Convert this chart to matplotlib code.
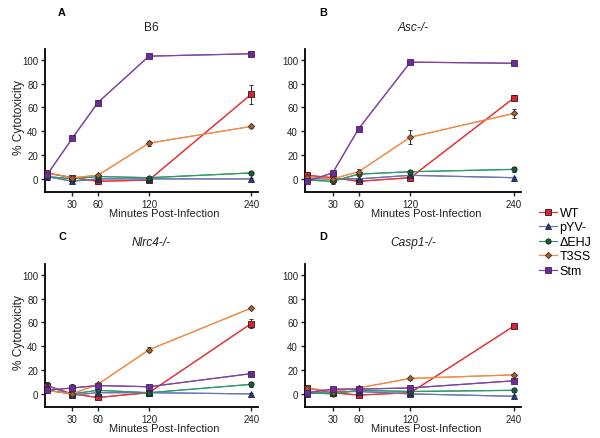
import matplotlib
matplotlib.use("Agg")
import matplotlib.pyplot as plt

plt.rcParams["font.family"] = ["Liberation Sans", "DejaVu Sans"]

# time points (minutes post-infection)
minutes = [0, 30, 60, 120, 240]
strains = ["WT", "pYV-", "\u0394EHJ", "T3SS", "Stm"]
panels = ["A", "B", "C", "D"]
titles = ["B6", "Asc-/-", "Nlrc4-/-", "Casp1-/-"]
title_italic = [False, True, True, True]

# % cytotoxicity, one list per strain per panel
b6 = {
    "WT": [5, 1, -2, -1, 71],
    "pYV-": [2, -2, 0, 0, 0],
    "\u0394EHJ": [2, 0, 2, 1, 5],
    "T3SS": [5, 1, 3, 30, 44],
    "Stm": [3, 34, 64, 103, 105],
}
asc = {
    "WT": [3, 1, -2, 1, 68],
    "pYV-": [0, 0, 0, 3, 1],
    "\u0394EHJ": [-1, -2, 4, 6, 8],
    "T3SS": [2, 0, 6, 35, 55],
    "Stm": [-2, 5, 42, 98, 97],
}
nlrc4 = {
    "WT": [7, 0, -3, 1, 59],
    "pYV-": [7, -1, 1, 1, 0],
    "\u0394EHJ": [3, 0, 3, 1, 8],
    "T3SS": [3, 0, 8, 37, 72],
    "Stm": [3, 5, 7, 6, 17],
}
casp1 = {
    "WT": [5, 1, -1, 1, 57],
    "pYV-": [0, 2, 2, 0, -2],
    "\u0394EHJ": [1, 0, 3, 2, 3],
    "T3SS": [5, 2, 5, 13, 16],
    "Stm": [1, 4, 4, 5, 11],
}
# standard error bars
b6_err = {
    "WT": [2, 1, 1, 1, 8],
    "pYV-": [1, 1, 1, 1, 1],
    "\u0394EHJ": [1, 1, 1, 1, 1],
    "T3SS": [1, 1, 1, 2, 1],
    "Stm": [1, 1, 2, 1, 1],
}
asc_err = {
    "WT": [1, 1, 1, 1, 2],
    "pYV-": [1, 1, 1, 1, 1],
    "\u0394EHJ": [1, 2, 1, 1, 2],
    "T3SS": [1, 1, 2, 6, 4],
    "Stm": [1, 2, 1, 1, 1],
}
nlrc4_err = {
    "WT": [3, 1, 1, 1, 4],
    "pYV-": [3, 1, 1, 1, 1],
    "\u0394EHJ": [1, 1, 1, 1, 2],
    "T3SS": [1, 1, 1, 2, 1],
    "Stm": [1, 3, 2, 1, 1],
}
casp1_err = {
    "WT": [1, 1, 1, 1, 1],
    "pYV-": [1, 1, 1, 1, 1],
    "\u0394EHJ": [1, 1, 1, 1, 1],
    "T3SS": [1, 1, 1, 1, 1],
    "Stm": [1, 1, 1, 1, 2],
}
all_data = [b6, asc, nlrc4, casp1]
all_err = [b6_err, asc_err, nlrc4_err, casp1_err]

line_colors = {"WT": "#e8323a", "pYV-": "#6876b4", "\u0394EHJ": "#2f9a68",
               "T3SS": "#f08a44", "Stm": "#7d44a0"}
marker_face = {"WT": "#d8243a", "pYV-": "#2c3a78", "\u0394EHJ": "#1c5a36",
               "T3SS": "#a0603a", "Stm": "#6a2e90"}
marker_edge = {"WT": "#3a1010", "pYV-": "#1c2250", "\u0394EHJ": "#102a1a",
               "T3SS": "#4a2a18", "Stm": "#4a1c66"}
markers = {"WT": "s", "pYV-": "^", "\u0394EHJ": "o", "T3SS": "D", "Stm": "s"}
msizes = {"WT": 4.5, "pYV-": 3.8, "\u0394EHJ": 3.8, "T3SS": 3.2, "Stm": 3.8}

fig = plt.figure(figsize=(6, 4.39), dpi=100)
W, H = 600, 439
boxes = [(45, 50, 258, 193), (305, 50, 521, 193),
         (45, 265, 258, 408), (305, 265, 521, 408)]
letter_pos = [(62, 13), (323, 13), (62, 237), (323, 237)]

handles = []
for i in range(4):
    x0, y0, x1, y1 = boxes[i]
    ax = fig.add_axes([x0 / W, 1 - y1 / H, (x1 - x0) / W, (y1 - y0) / H])
    data = all_data[i]
    err = all_err[i]
    for s in strains:
        ax.errorbar(minutes, data[s], yerr=err[s], color=line_colors[s],
                    lw=0.85, ecolor="#333333", elinewidth=0.7, capsize=1.5,
                    capthick=0.7, zorder=2)
        h, = ax.plot(minutes, data[s], color=line_colors[s], lw=0.85,
                     marker=markers[s], ms=msizes[s], mfc=marker_face[s],
                     mec=marker_edge[s], mew=0.6, zorder=3, label=s)
        if i == 0:
            handles.append(h)
    ax.set_xlim(-2, 248)
    ax.set_ylim(-11, 109)
    ax.set_xticks([30, 60, 120, 240])
    ax.set_yticks([0, 20, 40, 60, 80, 100])
    ax.spines["top"].set_visible(False)
    ax.spines["right"].set_visible(False)
    ax.spines["left"].set_linewidth(1.3)
    ax.spines["bottom"].set_linewidth(1.3)
    ax.tick_params(labelsize=7, length=3, width=1, pad=2, colors="#222222")
    ax.set_xlabel("Minutes Post-Infection", fontsize=8, color="#222222")
    ax.xaxis.set_label_coords(0.56, -0.115)
    if i in (0, 2):
        ax.set_ylabel("% Cytotoxicity", fontsize=8.6, color="#222222")
        ax.yaxis.set_label_coords(-0.095, 0.53)
    ax.set_title(titles[i], fontsize=8.6, pad=14, color="#222222",
                 style="italic" if title_italic[i] else "normal")
    lx, ly = letter_pos[i]
    fig.text(lx / W, 1 - ly / H, panels[i], fontsize=7.8, fontweight="bold",
             ha="center", va="center")

fig.legend(handles=handles, labels=strains, loc="upper left",
           bbox_to_anchor=(534 / W, 1 - 203 / H), frameon=False, fontsize=9,
           handlelength=1.4, handletextpad=0.25, labelspacing=0.2,
           borderaxespad=0)

fig.savefig("out.png", dpi=100)
